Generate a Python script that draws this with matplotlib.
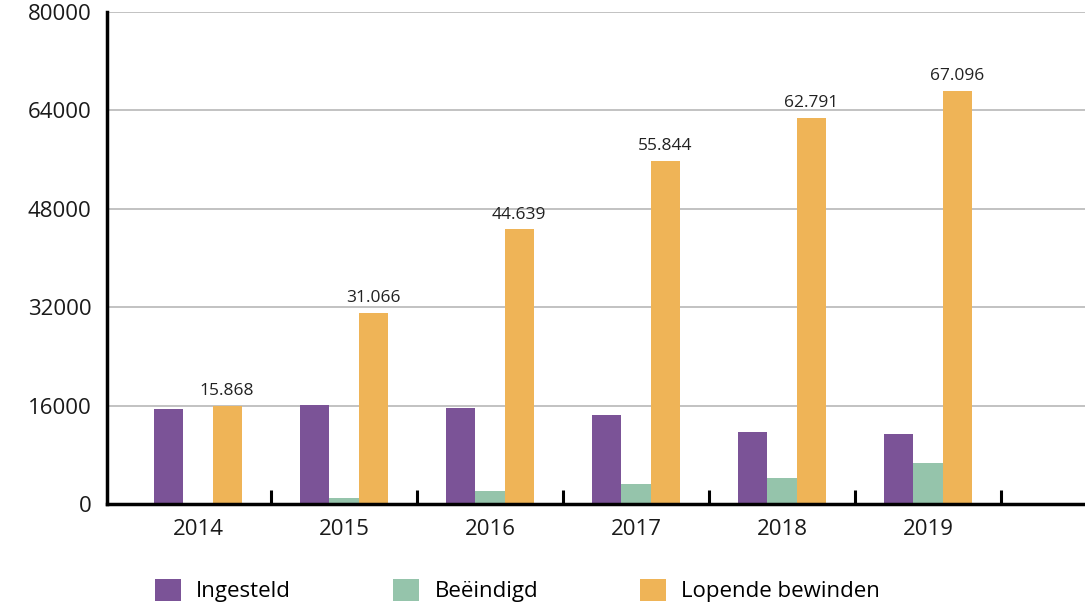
import numpy as np
import matplotlib.pyplot as plt
from matplotlib.patches import Patch

years = ["2014", "2015", "2016", "2017", "2018", "2019"]
ingesteld = [15400, 16100, 15600, 14500, 11700, 11400]
beeindigd = [0, 1000, 2100, 3250, 4250, 6650]
lopende = [15868, 31066, 44639, 55844, 62791, 67096]
series_names = ["Ingesteld", "Beëindigd", "Lopende bewinden"]
colors = ["#7B5397", "#95C4AB", "#EFB457"]

plt.rcParams['font.family'] = ['Open Sans', 'DejaVu Sans']

fig = plt.figure(figsize=(10.85, 6.04), dpi=100)
ax = fig.add_axes([107 / 1085, 1 - 504 / 604, 1 - 107 / 1085, 492 / 604])

x = np.arange(len(years))
w = 0.2
ax.bar(x - w, ingesteld, w, color=colors[0], zorder=3)
ax.bar(x, beeindigd, w, color=colors[1], zorder=3)
bars = ax.bar(x + w, lopende, w, color=colors[2], zorder=3)

for b, v in zip(bars, lopende):
    ax.annotate(f"{v:,}".replace(",", "."), (b.get_x() + b.get_width() / 2, v),
                xytext=(0, 5), textcoords="offset points", ha="center", va="bottom",
                fontsize=12.5, color="#222222")

ax.set_ylim(0, 80000)
ax.set_yticks(np.arange(0, 80001, 16000))
ax.set_xlim(-0.623, 6.075)
ax.set_xticks(x)
ax.set_xticklabels(years)
ax.set_xticks(np.arange(0.5, 6, 1), minor=True)
ax.tick_params(axis="x", which="major", length=0, labelsize=16, pad=11)
ax.tick_params(axis="x", which="minor", direction="in", length=10, width=2.2, color="black")
ax.tick_params(axis="y", length=0, labelsize=16, pad=11)
for lab in ax.get_yticklabels() + ax.get_xticklabels():
    lab.set_color("#1a1a1a")

ax.grid(axis="y", color="#bdbdbd", linewidth=1.3, zorder=0)
for s in ["top", "right"]:
    ax.spines[s].set_visible(False)
for s in ["left", "bottom"]:
    ax.spines[s].set_linewidth(2.5)
    ax.spines[s].set_color("black")
    ax.spines[s].set_zorder(4)

handles = [Patch(facecolor=c) for c in colors]
fig.legend(handles, series_names, loc="lower left", bbox_to_anchor=(0.1245, -0.03),
           ncol=3, frameon=False, fontsize=16, handlelength=1.15, handleheight=1.15,
           handletextpad=0.7, columnspacing=4.6)

fig.savefig("out.png", dpi=100)
